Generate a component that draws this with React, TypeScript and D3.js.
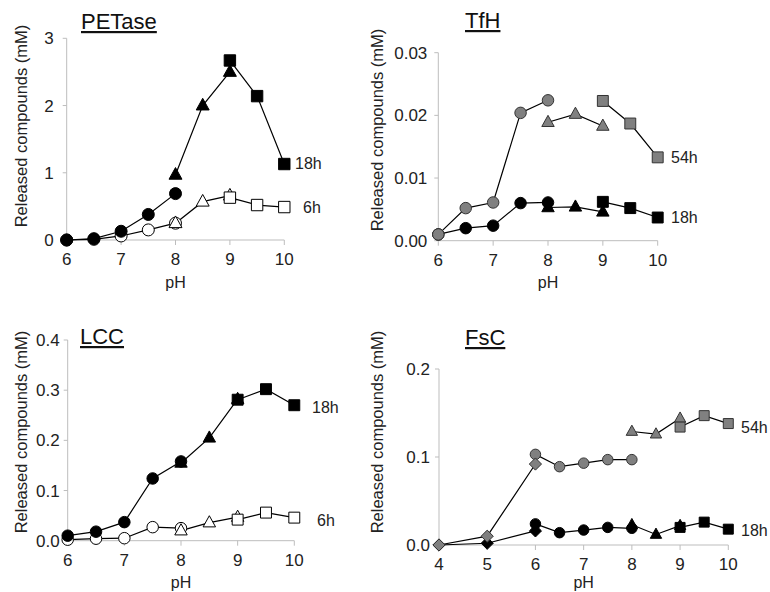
import React from "react";
import * as d3 from "d3";

// ---------- data ----------
const X_CIRCLE = [6, 6.5, 7, 7.5, 8];
const X_TRI = [8, 8.5, 9];
const X_SQ = [9, 9.5, 10];
const X_DIA = [4, 5, 6];

const PET_18H_CIRCLE = [0, 0.02, 0.13, 0.38, 0.69];
const PET_18H_TRI = [0.97, 2.0, 2.5];
const PET_18H_SQ = [2.67, 2.14, 1.13];
const PET_6H_CIRCLE = [0, 0.01, 0.06, 0.15, 0.25];
const PET_6H_TRI = [0.25, 0.57, 0.66];
const PET_6H_SQ = [0.63, 0.52, 0.49];

const TFH_18H_CIRCLE = [0.001, 0.002, 0.0024, 0.006, 0.0061];
const TFH_18H_TRI = [0.0053, 0.0054, 0.0046];
const TFH_18H_SQ = [0.0062, 0.0052, 0.0037];
const TFH_54H_CIRCLE = [0.001, 0.0052, 0.0061, 0.0204, 0.0224];
const TFH_54H_TRI = [0.0189, 0.0202, 0.0183];
const TFH_54H_SQ = [0.0223, 0.0187, 0.0133];

const LCC_18H_CIRCLE = [0.01, 0.018, 0.037, 0.124, 0.158];
const LCC_18H_TRI = [0.155, 0.205, 0.282];
const LCC_18H_SQ = [0.281, 0.302, 0.27];
const LCC_6H_CIRCLE = [0.002, 0.004, 0.005, 0.027, 0.025];
const LCC_6H_TRI = [0.02, 0.036, 0.047];
const LCC_6H_SQ = [0.042, 0.056, 0.046];

const FSC_18H_DIA = [0, 0.002, 0.016];
const FSC_18H_CIRCLE = [0.024, 0.014, 0.017, 0.02, 0.019];
const FSC_18H_TRI = [0.023, 0.012, 0.022];
const FSC_18H_SQ = [0.02, 0.026, 0.018];
const FSC_54H_DIA = [0, 0.01, 0.092];
const FSC_54H_CIRCLE = [0.103, 0.089, 0.093, 0.097, 0.097];
const FSC_54H_TRI = [0.129, 0.126, 0.144];
const FSC_54H_SQ = [0.134, 0.147, 0.138];

const X_TICKS_6_10 = [6, 7, 8, 9, 10];
const X_TICKS_4_10 = [4, 5, 6, 7, 8, 9, 10];
const PET_Y_TICKS = [0, 1, 2, 3];
const TFH_Y_TICKS = [0, 0.01, 0.02, 0.03];
const LCC_Y_TICKS = [0, 0.1, 0.2, 0.3, 0.4];
const FSC_Y_TICKS = [0, 0.1, 0.2];

// ---------- styles ----------
const BLACK = { fill: "#000", stroke: "#000" };
const OPEN = { fill: "#fff", stroke: "#000" };
const GRAY = { fill: "#808080", stroke: "#333" };
const FONT = "Liberation Sans, Arial, sans-serif";
const AXIS = "#bdbdbd";

type Subset = { shape: string; xs: number[]; ys: number[] };
type Group = { style: { fill: string; stroke: string }; subsets: Subset[] };

function markerPath(shape: string, s: number): string {
  if (shape === "circle") return d3.symbol(d3.symbolCircle, Math.PI * (s / 2) * (s / 2))()!;
  if (shape === "square") {
    const h = (s * 0.95) / 2;
    return `M${-h},${-h}H${h}V${h}H${-h}Z`;
  }
  if (shape === "triangle") {
    const w = s * 1.08;
    const hgt = w * 0.9;
    return `M0,${-hgt * 0.62}L${w / 2},${hgt * 0.38}L${-w / 2},${hgt * 0.38}Z`;
  }
  const h = s * 0.58;
  return `M0,${-h}L${h},0L0,${h}L${-h},0Z`;
}

type Cfg = {
  x0: number; x1: number; y0: number; y1: number;
  xDomain: [number, number]; yDomain: [number, number];
  xTicks: number[]; yTicks: number[]; yFmt: (v: number) => string;
  yGap: number; ms: number; pHY: number;
  title: string; titleX: number; titleY: number;
  yTitleX: number; yTitleY: number;
  labels: { text: string; x: number; y: number }[];
  groups: Group[];
};

function Panel({ c }: { c: Cfg }) {
  const x = d3.scaleLinear().domain(c.xDomain).range([c.x0, c.x1]);
  const y = d3.scaleLinear().domain(c.yDomain).range([c.y0, c.y1]);
  const line = d3.line<[number, number]>().x((d) => x(d[0])).y((d) => y(d[1]));
  const xMid = (c.x0 + c.x1) / 2;
  return (
    <g>
      {/* axes */}
      <line x1={c.x0} x2={c.x0} y1={c.y0} y2={c.y1} stroke={AXIS} strokeWidth={1} />
      <line x1={c.x0} x2={c.x1} y1={c.y0} y2={c.y0} stroke={AXIS} strokeWidth={1} />
      {c.yTicks.map((t) => (
        <g key={"yt" + t}>
          <line x1={c.x0 - 4} x2={c.x0} y1={y(t)} y2={y(t)} stroke={AXIS} />
          <text x={c.x0 - c.yGap} y={y(t)} dy="0.36em" textAnchor="end" fontSize={17} fontFamily={FONT} fill="#222">
            {c.yFmt(t)}
          </text>
        </g>
      ))}
      {c.xTicks.map((t) => (
        <g key={"xt" + t}>
          <line x1={x(t)} x2={x(t)} y1={c.y0} y2={c.y0 + 5} stroke={AXIS} />
          <text x={x(t)} y={c.y0 + 19} dy="0.36em" textAnchor="middle" fontSize={17} fontFamily={FONT} fill="#222">
            {t}
          </text>
        </g>
      ))}
      <text x={xMid} y={c.pHY} dy="0.36em" textAnchor="middle" fontSize={16} fontFamily={FONT} fill="#222">
        pH
      </text>
      <text
        transform={`translate(${c.yTitleX},${c.yTitleY}) rotate(-90)`}
        textAnchor="middle"
        dy="0.36em"
        fontSize={16.5}
        fontFamily={FONT}
        fill="#222"
      >
        Released compounds (mM)
      </text>
      <text x={c.titleX} y={c.titleY} fontSize={22} fontFamily={FONT} fill="#111" textDecoration="underline">
        {c.title}
      </text>
      {/* series */}
      {c.groups.map((g, gi) => (
        <g key={"g" + gi}>
          {g.subsets.map((s, si) => (
            <path
              key={"l" + si}
              d={line(s.xs.map((xv, i) => [xv, s.ys[i]] as [number, number]))!}
              fill="none"
              stroke="#000"
              strokeWidth={1.2}
            />
          ))}
          {g.subsets.map((s, si) =>
            s.xs.map((xv, i) => (
              <path
                key={"m" + si + "_" + i}
                d={markerPath(s.shape, c.ms)}
                transform={`translate(${x(xv)},${y(s.ys[i])})`}
                fill={g.style.fill}
                stroke={g.style.stroke}
                strokeWidth={1}
              />
            ))
          )}
        </g>
      ))}
      {c.labels.map((l, i) => (
        <text key={"lab" + i} x={l.x} y={l.y} dy="0.36em" fontSize={16} fontFamily={FONT} fill="#222">
          {l.text}
        </text>
      ))}
    </g>
  );
}

const sets = (a: number[], b: number[], cc: number[]): Subset[] => [
  { shape: "circle", xs: X_CIRCLE, ys: a },
  { shape: "triangle", xs: X_TRI, ys: b },
  { shape: "square", xs: X_SQ, ys: cc },
];

const panels: Cfg[] = [
  {
    x0: 66.7, x1: 284.3, y0: 240, y1: 38.3,
    xDomain: [6, 10], yDomain: [0, 3], xTicks: X_TICKS_6_10, yTicks: PET_Y_TICKS,
    yFmt: (v) => d3.format("d")(v), yGap: 13, ms: 12, pHY: 282,
    title: "PETase", titleX: 81, titleY: 29, yTitleX: 21, yTitleY: 126,
    labels: [
      { text: "18h", x: 295, y: 163 },
      { text: "6h", x: 303, y: 207 },
    ],
    groups: [
      { style: OPEN, subsets: sets(PET_6H_CIRCLE, PET_6H_TRI, PET_6H_SQ) },
      { style: BLACK, subsets: sets(PET_18H_CIRCLE, PET_18H_TRI, PET_18H_SQ) },
    ],
  },
  {
    x0: 438.3, x1: 657.7, y0: 240.7, y1: 52.7,
    xDomain: [6, 10], yDomain: [0, 0.03], xTicks: X_TICKS_6_10, yTicks: TFH_Y_TICKS,
    yFmt: (v) => d3.format(".2f")(v), yGap: 11, ms: 11.5, pHY: 282,
    title: "TfH", titleX: 465, titleY: 28, yTitleX: 377, yTitleY: 130,
    labels: [
      { text: "54h", x: 671, y: 157 },
      { text: "18h", x: 671, y: 217 },
    ],
    groups: [
      { style: BLACK, subsets: sets(TFH_18H_CIRCLE, TFH_18H_TRI, TFH_18H_SQ) },
      { style: GRAY, subsets: sets(TFH_54H_CIRCLE, TFH_54H_TRI, TFH_54H_SQ) },
    ],
  },
  {
    x0: 67.7, x1: 294.3, y0: 540.7, y1: 340,
    xDomain: [6, 10], yDomain: [0, 0.4], xTicks: X_TICKS_6_10, yTicks: LCC_Y_TICKS,
    yFmt: (v) => d3.format(".1f")(v), yGap: 8, ms: 11.5, pHY: 582,
    title: "LCC", titleX: 80, titleY: 344, yTitleX: 21, yTitleY: 432,
    labels: [
      { text: "18h", x: 312, y: 407 },
      { text: "6h", x: 317, y: 520 },
    ],
    groups: [
      { style: OPEN, subsets: sets(LCC_6H_CIRCLE, LCC_6H_TRI, LCC_6H_SQ) },
      { style: BLACK, subsets: sets(LCC_18H_CIRCLE, LCC_18H_TRI, LCC_18H_SQ) },
    ],
  },
  {
    x0: 439, x1: 728.3, y0: 545, y1: 369,
    xDomain: [4, 10], yDomain: [0, 0.2], xTicks: X_TICKS_4_10, yTicks: FSC_Y_TICKS,
    yFmt: (v) => d3.format(".1f")(v), yGap: 9, ms: 10.5, pHY: 582,
    title: "FsC", titleX: 465, titleY: 345, yTitleX: 377, yTitleY: 432,
    labels: [
      { text: "54h", x: 741, y: 427 },
      { text: "18h", x: 741, y: 530 },
    ],
    groups: [
      {
        style: BLACK,
        subsets: [{ shape: "circle", xs: X_CIRCLE, ys: FSC_18H_CIRCLE }, { shape: "diamond", xs: X_DIA, ys: FSC_18H_DIA }, { shape: "triangle", xs: X_TRI, ys: FSC_18H_TRI }, { shape: "square", xs: X_SQ, ys: FSC_18H_SQ }],
      },
      {
        style: GRAY,
        subsets: [{ shape: "circle", xs: X_CIRCLE, ys: FSC_54H_CIRCLE }, { shape: "diamond", xs: X_DIA, ys: FSC_54H_DIA }, { shape: "triangle", xs: X_TRI, ys: FSC_54H_TRI }, { shape: "square", xs: X_SQ, ys: FSC_54H_SQ }],
      },
    ],
  },
];

export default function App() {
  return (
    <svg
      width={770}
      height={592}
      viewBox="0 0 770 592"
      style={{ position: "absolute", left: 0, top: 0, background: "#fff" }}
    >
      <rect width={770} height={592} fill="#fff" />
      {panels.map((p, i) => (
        <Panel key={i} c={p} />
      ))}
    </svg>
  );
}
